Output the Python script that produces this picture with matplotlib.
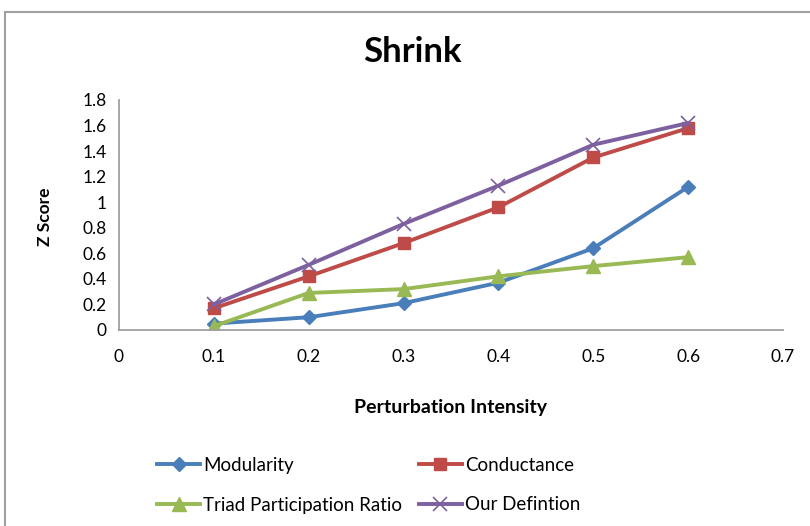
import matplotlib
matplotlib.use("Agg")
from matplotlib import pyplot as plt
from matplotlib.patches import Rectangle

plt.rcParams['font.family'] = ['Lato', 'DejaVu Sans']

# perturbation levels and z scores per measure
intensity = [0.1, 0.2, 0.3, 0.4, 0.5, 0.6]
modularity = [0.05, 0.10, 0.21, 0.37, 0.64, 1.12]
conductance = [0.17, 0.42, 0.68, 0.96, 1.35, 1.58]
triad = [0.03, 0.29, 0.32, 0.42, 0.50, 0.57]
our_def = [0.20, 0.51, 0.83, 1.13, 1.45, 1.62]

xticks = [0, 0.1, 0.2, 0.3, 0.4, 0.5, 0.6, 0.7]
yticks = [0, 0.2, 0.4, 0.6, 0.8, 1, 1.2, 1.4, 1.6, 1.8]

fig = plt.figure(figsize=(8.1, 5.26), dpi=100)
fig.patches.append(Rectangle((5 / 810, -0.1), 1.2, (526 - 12) / 526 + 0.1,
                             transform=fig.transFigure, fill=False,
                             edgecolor='#a0a0a0', linewidth=1.5))

ax = fig.add_axes([119 / 810, (526 - 330) / 526, (783 - 119) / 810, (330 - 100) / 526])

l_mod, = ax.plot(intensity, modularity, color='#4a7ebb', marker='D', markersize=7, lw=2.8, label='Modularity')
l_con, = ax.plot(intensity, conductance, color='#be4b48', marker='s', markersize=9, lw=2.8, label='Conductance')
l_tri, = ax.plot(intensity, triad, color='#98b954', marker='^', markersize=10, lw=2.8, label='Triad Participation Ratio')
l_our, = ax.plot(intensity, our_def, color='#7d60a0', marker='x', markersize=10, mew=1.2, lw=2.8, label='Our Defintion')

ax.set_xlim(0, 0.7)
ax.set_ylim(0, 1.8)
ax.set_xticks(xticks)
ax.set_xticklabels([str(t) for t in xticks])
ax.set_yticks(yticks)
ax.set_yticklabels([str(t) for t in yticks])
ax.tick_params(length=0, labelsize=12.5, pad=9)
ax.tick_params(axis='x', pad=14)
for s in ['top', 'right']:
    ax.spines[s].set_visible(False)
for s in ['left', 'bottom']:
    ax.spines[s].set_color('#a0a0a0')
    ax.spines[s].set_linewidth(1.3)

fig.text(412 / 810, 1 - 52 / 526, 'Shrink', ha='center', va='center', fontsize=25, fontweight='bold')
fig.text(45 / 810, 1 - 217 / 526, 'Z Score', ha='center', va='center', rotation=90, fontsize=12.5, fontweight='bold')
fig.text(451 / 810, 1 - 407 / 526, 'Perturbation Intensity', ha='center', va='center', fontsize=14, fontweight='bold')

# legend fills column by column: put row one (Modularity, Conductance) across the top
fig.legend([l_mod, l_tri, l_con, l_our],
           ['Modularity', 'Triad Participation Ratio', 'Conductance', 'Our Defintion'],
           loc='upper left', bbox_to_anchor=(157 / 810, 1 - 457 / 526), ncol=2, frameon=False,
           borderpad=0, borderaxespad=0,
           fontsize=13.5, handlelength=2.3, columnspacing=0.9, labelspacing=1.2, handletextpad=0.15)

fig.savefig('out.png', dpi=100)
